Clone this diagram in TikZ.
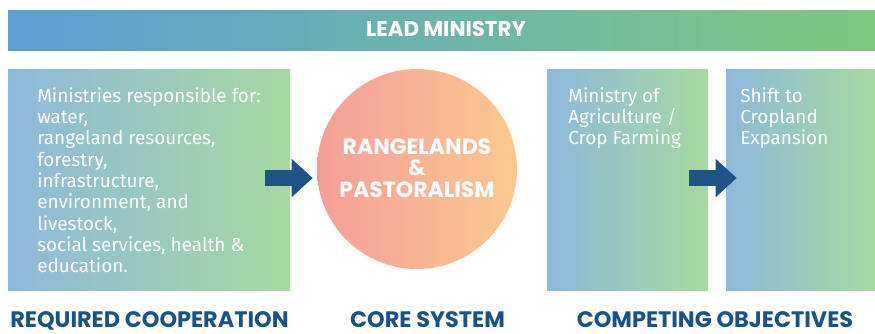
\documentclass[tikz,border=0pt]{standalone}
\usepackage{fontspec}
\setmainfont{Fira Sans}
\newfontfamily\headfont{Poppins}
\usepackage{xcolor}
\usetikzlibrary{arrows.meta,positioning,calc}

\definecolor{barblue}{RGB}{91,159,212}
\definecolor{barteal}{RGB}{106,176,182}
\definecolor{bargreen}{RGB}{127,201,128}
\definecolor{boxblue}{RGB}{140,185,220}
\definecolor{boxgreen}{RGB}{166,217,160}
\definecolor{coresalmon}{RGB}{244,158,154}
\definecolor{coreorange}{RGB}{250,201,143}
\definecolor{arrowblue}{RGB}{31,83,135}
\definecolor{labelblue}{RGB}{24,82,134}

\begin{document}
\begin{tikzpicture}[x=0.75pt, y=0.75pt,
    panel/.style={rectangle, minimum height=165.75pt, inner sep=0, left color=boxblue, right color=boxgreen},
    paneltext/.style={anchor=north west, inner sep=0, align=left, text=white, font=\fontsize{14.2}{16}\selectfont},
    heading/.style={inner sep=0, text=white, font=\headfont\bfseries\fontsize{16.5}{16}\selectfont},
    caption/.style={anchor=base, inner sep=0, text=labelblue, font=\headfont\bfseries\fontsize{16.8}{18}\selectfont},
    flow/.style={draw=arrowblue, line width=12pt, -{Triangle[length=15.75pt, width=27.75pt]}}
  ]
    \useasboundingbox (0,0) rectangle (875,-333);

    % Lead ministry bar
    \node[rectangle, inner sep=0, minimum width=650.25pt, minimum height=30pt,
          left color=barblue, middle color=barteal, right color=bargreen] (lead) at (441.5,-30) {};
    \node[heading, font=\headfont\bfseries\fontsize{16}{16}\selectfont] (leadtext) at (446,-29) {LEAD MINISTRY};

    % Panels
    \node[panel, minimum width=211.5pt] (coop) at (149,-179.5) {};
    \node[panel, minimum width=120.75pt] (agri) at (627.5,-179.5) {};
    \node[panel, minimum width=111.75pt] (shift) at (800.5,-179.5) {};

    % Core system
    \node[circle, inner sep=0, minimum size=150pt, left color=coresalmon, right color=coreorange] (core) at (417,-169) {};
    \node[heading, align=center] (coretext) at (417,-168) {RANGELANDS\\\&\\PASTORALISM};

    % Panel texts
    \node[paneltext] (cooptext) at (37,-87) {Ministries responsible for:\\water,\\rangeland resources,\\forestry,\\infrastructure,\\environment, and\\livestock,\\social services, health \&\\education.};
    \node[paneltext] (agritext) at (568,-87) {Ministry of\\Agriculture /\\Crop Farming};
    \node[paneltext] (shifttext) at (740,-87) {Shift to\\Cropland\\Expansion};

    % Arrows
    \coordinate (flowa) at ($(coop.east)+(-25,1.5)$);
    \coordinate (flowb) at ($(agri.east)+(-19,1.5)$);
    \draw[flow] (flowa) -- ($(flowa -| core.west)+(-4,0)$);
    \draw[flow] (flowb) -- ($(flowb -| shift.west)+(11,0)$);

    % Captions
    \node[caption] (coopcap) at (149.5,-327) {REQUIRED COOPERATION};
    \node[caption] (corecap) at (427.5,-327) {CORE SYSTEM};
    \node[caption] (compcap) at (715,-327) {COMPETING OBJECTIVES};
  \end{tikzpicture}
\end{document}
